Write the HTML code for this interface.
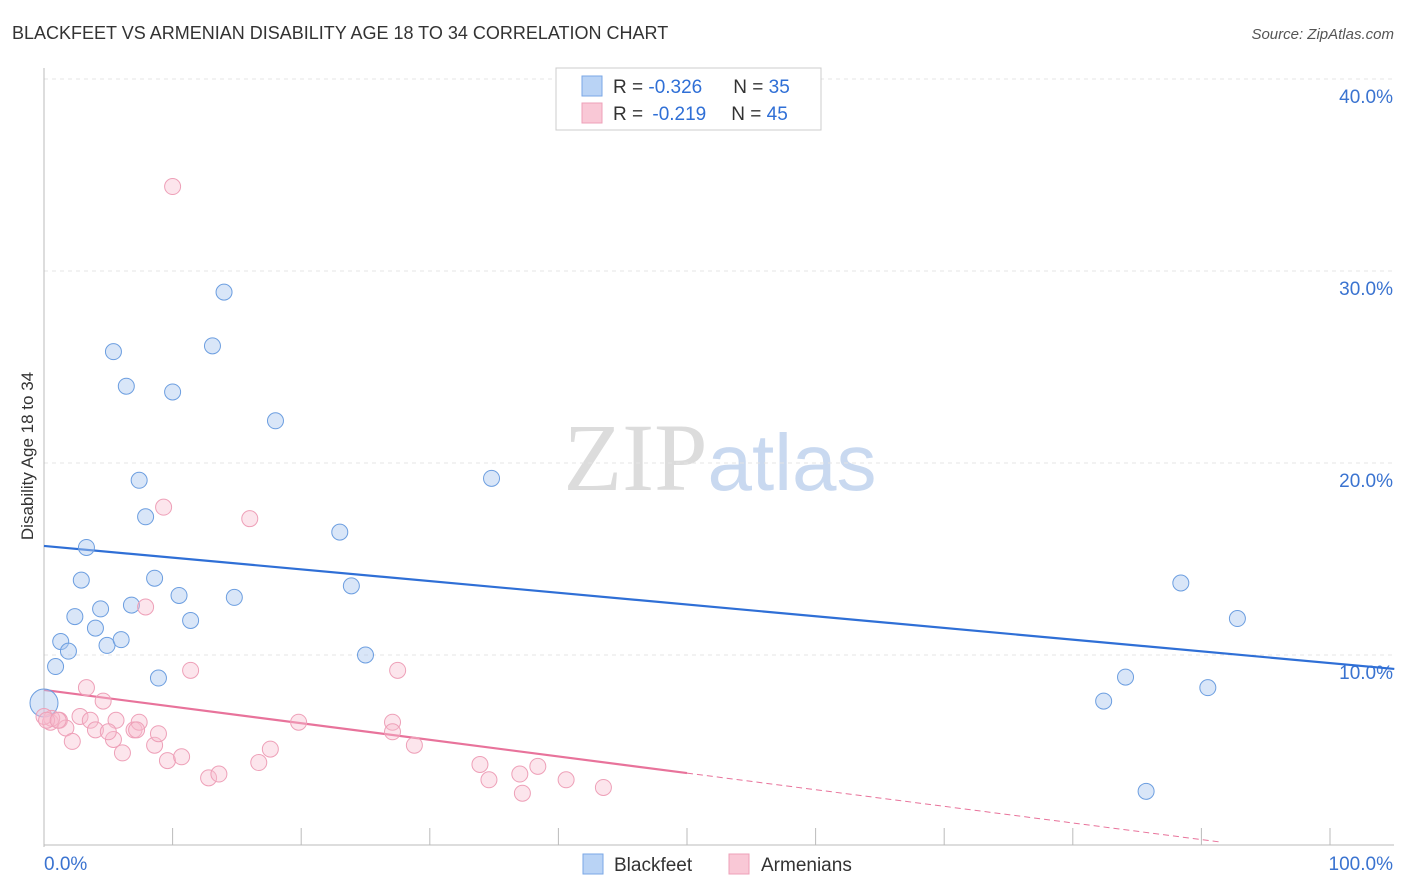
<!DOCTYPE html>
<html><head><meta charset="utf-8">
<style>
body{margin:0;background:#fff;font-family:"Liberation Sans",sans-serif;}
svg{display:block}
</style></head>
<body>
<svg id="chart" width="1406" height="892" xmlns="http://www.w3.org/2000/svg">
<text x="12" y="39" font-size="18" fill="#333" font-family="Liberation Sans, sans-serif">BLACKFEET VS ARMENIAN DISABILITY AGE 18 TO 34 CORRELATION CHART</text>
<text x="1394" y="39" font-size="15" fill="#555" text-anchor="end" font-style="italic">Source: ZipAtlas.com</text>
<text x="720" y="490" font-size="96" text-anchor="middle"><tspan fill="#dcdcdc" font-family="Liberation Serif, serif">ZIP</tspan><tspan fill="#c9d9f0" font-size="80">atlas</tspan></text>
<text transform="translate(33,456) rotate(-90)" font-size="17" fill="#333" text-anchor="middle">Disability Age 18 to 34</text>
<g id="grid"></g><g id="axes"></g><g id="lines"></g><g id="pts"></g>
<g>
<rect x="556" y="68" width="265" height="62" fill="#fff" stroke="#ccc"/>
<rect x="582" y="76" width="20" height="20" fill="#b9d3f5" stroke="#7aa7e6"/>
<rect x="582" y="103" width="20" height="20" fill="#f9c8d6" stroke="#eea0b8"/>
<text x="613" y="93" font-size="19" fill="#333">R = <tspan fill="#2f6fd6">-0.326</tspan><tspan dx="31">N = </tspan><tspan fill="#2f6fd6">35</tspan></text>
<text x="613" y="120" font-size="19" fill="#333">R = <tspan fill="#2f6fd6" dx="4">-0.219</tspan><tspan dx="25">N = </tspan><tspan fill="#2f6fd6">45</tspan></text>
</g>
<g>
<rect x="583" y="854" width="20" height="20" fill="#b9d3f5" stroke="#7aa7e6"/>
<text x="614" y="871" font-size="19" fill="#333">Blackfeet</text>
<rect x="729" y="854" width="20" height="20" fill="#f9c8d6" stroke="#eea0b8"/>
<text x="761" y="871" font-size="19" fill="#333">Armenians</text>
</g>
</svg>
<script>
const yTicks=[10,20,30,40];
const yTickLabels=["10.0%","20.0%","30.0%","40.0%"];
const xTicks=[0,10,20,30,40,50,60,70,80,90,100];
const blueX=[5.4,6.4,10.0,13.1,14.0,18.0,7.4,7.9,3.3,2.9,8.6,2.4,4.4,6.8,10.5,14.8,4.0,1.3,1.9,4.9,6.0,11.4,0.9,8.9,0.0,23.0,23.9,25.0,34.8,88.4,92.8,84.1,82.4,90.5,85.7];
const blueY=[25.8,24.0,23.7,26.1,28.9,22.2,19.1,17.2,15.6,13.9,14.0,12.0,12.4,12.6,13.1,13.0,11.4,10.7,10.2,10.5,10.8,11.8,9.4,8.8,7.5,16.4,13.6,10.0,19.2,13.75,11.9,8.85,7.6,8.3,2.9];
const pinkX=[10.0,9.3,16.0,7.9,11.4,27.5,3.3,4.6,2.8,3.6,1.2,0.5,1.7,2.2,4.0,5.4,5.6,5.0,6.1,7.0,7.4,7.2,8.6,8.9,9.6,10.7,12.8,13.6,16.7,17.6,19.8,27.1,27.1,28.8,33.9,34.6,37.0,37.2,38.4,40.6,43.5,0.6,0,0.2,1.1];
const pinkY=[34.4,17.7,17.1,12.5,9.2,9.2,8.3,7.6,6.8,6.6,6.6,6.5,6.2,5.5,6.1,5.6,6.6,6.0,4.9,6.1,6.5,6.1,5.3,5.9,4.5,4.7,3.6,3.8,4.4,5.1,6.5,6.5,6.0,5.3,4.3,3.5,3.8,2.8,4.2,3.5,3.1,6.7,6.8,6.6,6.6];
const blueTrend=[15.68,-0.061];
const pinkTrend=[8.18,-0.0866];
const NS="http://www.w3.org/2000/svg";
const sx=v=>44+v*12.86, sy=v=>847-v*19.2;
function mk(tag,attrs,parent){const e=document.createElementNS(NS,tag);for(const k in attrs)e.setAttribute(k,attrs[k]);document.getElementById(parent).appendChild(e);return e;}
yTicks.forEach((t,i)=>{
 const g=mk('line',{x1:44,x2:1394,y1:sy(t),y2:sy(t),stroke:'#e4e4e4','stroke-dasharray':'4,4'},'grid');
 
 
 const l=mk('text',{x:1393,y:sy(t)+24,'font-size':19,fill:'#3a73d0','text-anchor':'end'},'axes');
 l.textContent=yTickLabels[i];
 
 
});
const topGrid=mk('line',{x1:44,x2:1394,y1:79,y2:79,stroke:'#e4e4e4','stroke-dasharray':'4,4'},'grid');


mk('line',{x1:44,x2:44,y1:68,y2:847,stroke:'#bbb'},'axes');
mk('line',{x1:44,x2:1394,y1:845,y2:845,stroke:'#bbb'},'axes');
xTicks.forEach(t=>{const e=mk('line',{x1:sx(t),x2:sx(t),y1:828,y2:845,stroke:'#bbb'},'axes');
 
 });
let a=mk('text',{x:44,y:870,'font-size':19,fill:'#3a73d0'},'axes');a.textContent='0.0%';


a=mk('text',{x:1393,y:870,'font-size':19,fill:'#3a73d0','text-anchor':'end'},'axes');a.textContent='100.0%';


blueX.forEach((x,i)=>{const c=mk('circle',{cx:sx(x),cy:sy(blueY[i]),r:(x===0?14:8),fill:'rgba(170,200,240,0.45)',stroke:'#6c9ee0','stroke-width':1},'pts');
 
 });
pinkX.forEach((x,i)=>{const c=mk('circle',{cx:sx(x),cy:sy(pinkY[i]),r:8,fill:'rgba(248,190,208,0.4)',stroke:'#eea0b8','stroke-width':1},'pts');
 
 });
let t1=mk('line',{x1:sx(0),y1:sy(blueTrend[0]),x2:sx(105),y2:sy(blueTrend[0]+blueTrend[1]*105),stroke:'#2f6fd6','stroke-width':2.2},'lines');


let t2=mk('line',{x1:sx(0),y1:sy(pinkTrend[0]),x2:sx(50),y2:sy(pinkTrend[0]+pinkTrend[1]*50),stroke:'#e8739b','stroke-width':2.2},'lines');


let t3=mk('line',{x1:sx(50),y1:sy(pinkTrend[0]+pinkTrend[1]*50),x2:sx(91.5),y2:sy(pinkTrend[0]+pinkTrend[1]*91.5),stroke:'#e8739b','stroke-width':1,'stroke-dasharray':'6,4'},'lines');


</script>
</body></html>
